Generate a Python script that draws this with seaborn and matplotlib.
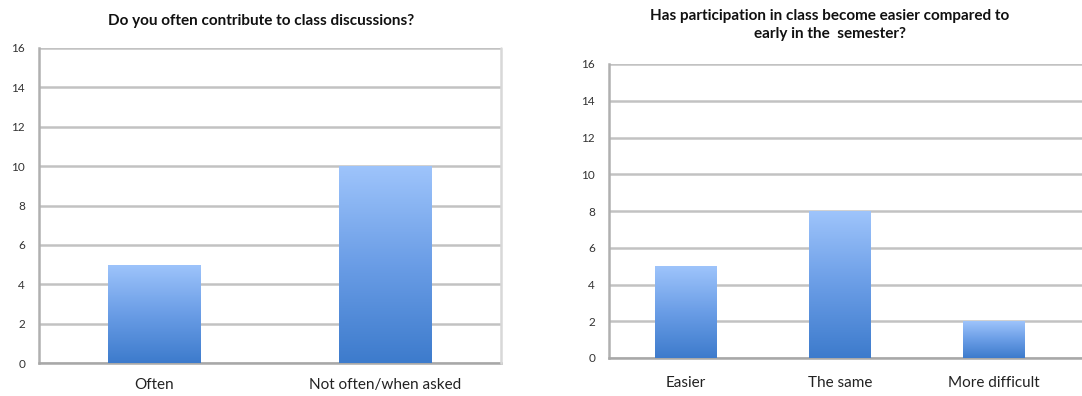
import numpy as np
import pandas as pd
import matplotlib
matplotlib.use("Agg")
import matplotlib.pyplot as plt
from matplotlib.colors import LinearSegmentedColormap
import seaborn as sns

# Survey responses
q1_title = "Do you often contribute to class discussions?"
q1_answers = ["Often", "Not often/when asked"]
q1_counts = [5, 10]

q2_title = "Has participation in class become easier compared to\nearly in the  semester?"
q2_answers = ["Easier", "The same", "More difficult"]
q2_counts = [5, 8, 2]

y_ticks = [0, 2, 4, 6, 8, 10, 12, 14, 16]

sns.set_theme(style="white")
plt.rcParams["font.family"] = ["Lato", "DejaVu Sans"]

W, H = 1082, 396
fig = plt.figure(figsize=(W / 100, H / 100), dpi=100)

grad = LinearSegmentedColormap.from_list("barfill", ["#3d7bcc", "#6a9de6", "#9ec4fb"])


def px_axes(left, top, right, bottom):
    return fig.add_axes([left / W, 1 - bottom / H, (right - left) / W, (bottom - top) / H])


def draw_panel(ax, answers, counts, title, width, xlim, title_x, title_y, xlabel_pad):
    df = pd.DataFrame({"answer": answers, "count": counts})
    sns.barplot(data=df, x="answer", y="count", ax=ax, color="#6a9de6",
                width=width, saturation=1, zorder=3)
    ax.set_xlim(*xlim)
    ax.set_ylim(0, 16)
    ax.set_yticks(y_ticks)
    ax.set_xlabel("")
    ax.set_ylabel("")
    ax.grid(axis="y", color="#c2c2c2", linewidth=1.8, zorder=0)
    ax.grid(axis="x", visible=False)
    for side in ["top", "right"]:
        ax.spines[side].set_visible(False)
    ax.spines["left"].set_color("#b0b0b0")
    ax.spines["left"].set_linewidth(1.8)
    ax.spines["bottom"].set_color("#a8a8a8")
    ax.spines["bottom"].set_linewidth(1.8)
    ax.tick_params(axis="y", labelsize=8.5, colors="#333333", length=0, pad=10)
    ax.tick_params(axis="x", labelsize=11, colors="#222222", length=0, pad=xlabel_pad)
    ax.set_axisbelow(True)

    # vertical gradient fill on each bar
    g = np.linspace(0, 1, 256).reshape(-1, 1)
    for p in ax.patches:
        x0, y0 = p.get_x(), p.get_y()
        w, h = p.get_width(), p.get_height()
        p.set_facecolor("none")
        p.set_edgecolor("none")
        im = ax.imshow(g, cmap=grad, origin="lower", aspect="auto",
                       extent=[x0, x0 + w, y0, y0 + h], zorder=3)
        im.set_clip_path(p)
    ax.set_xlim(*xlim)
    ax.set_ylim(0, 16)
    ax.set_title(title, fontsize=11, fontweight="bold", color="#111111",
                 x=title_x, y=title_y, linespacing=1.4)


ax1 = px_axes(39, 48, 501, 363)
fig.add_artist(plt.Line2D([501 / W, 501 / W], [1 - 363 / H, 1 - 48 / H],
                          color="#d8d8d8", linewidth=1.8))
draw_panel(ax1, q1_answers, q1_counts, q1_title, 0.4, (-0.5, 1.5), 0.48, 1.045, 11)

ax2 = px_axes(609, 64, 1090, 358)
draw_panel(ax2, q2_answers, q2_counts, q2_title, 0.4, (-0.5, 2.623), 0.459, 1.06, 13)

fig.savefig("out.png", dpi=100, facecolor="white")
